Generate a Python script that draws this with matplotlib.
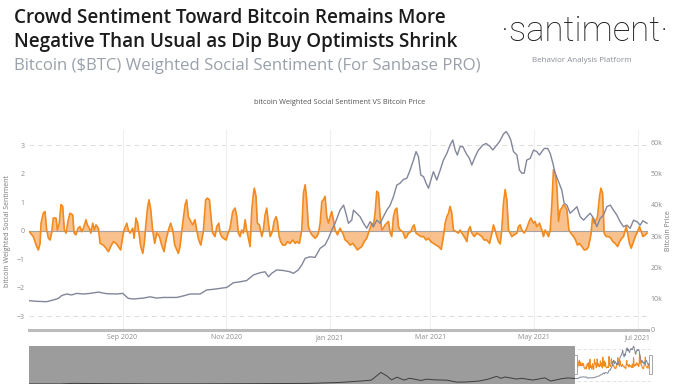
# bitcoin weighted social sentiment vs bitcoin price (santiment style)

import pandas as pd
import matplotlib
matplotlib.use('Agg')
import matplotlib.pyplot as plt
import matplotlib.dates as mdates
import matplotlib.transforms as mtrans
from matplotlib.patches import Rectangle

# data
start = pd.Timestamp('2020-07-08')
end_day = 364

# weighted social sentiment: day offset from start, value
sent_day = [0.2, 2.5, 4.5, 5.5, 6.5, 7.1, 8.4, 9.4, 10.4, 11.4, 12.4, 13.3, 14.3, 15.9, 16.7,
            17.8, 18.8, 19.8, 20.8, 21.8, 22.9, 24.1, 25.7, 26.5, 27.6, 28.8, 30, 31, 32, 33.5,
            34.3, 35.5, 36.3, 37.5, 38.4, 39.4, 40.8, 41.8, 43.7, 45.3, 46.7, 48, 49.6, 51.2,
            52.5, 53.9, 55.1, 55.9, 56.7, 57.5, 58.4, 59.4, 61, 61.8, 62.9, 63.9, 64.9, 65.7,
            66.9, 67.8, 68.8, 69.8, 70.6, 71.6, 72.7, 73.9, 75.1, 76.7, 78, 79.4, 80.6, 82,
            83.3, 84.5, 85.7, 86.9, 87.8, 88.8, 90.4, 91.8, 92.7, 93.7, 95.1, 96.3, 97.6, 98.6,
            99.8, 101, 102.5, 103.9, 104.9, 106.1, 107.1, 108, 109.4, 110.4, 111.6, 112.4,
            113.3, 114.3, 115.9, 117.1, 118.2, 119.8, 121.2, 122.2, 123.1, 124.1, 125.1, 126.1,
            127.1, 128, 129, 130, 131, 132, 132.5, 133.5, 134.3, 135.5, 136.9, 137.8, 138.8,
            139.8, 140.8, 141.8, 142.7, 143.3, 144.1, 145.3, 146.1, 147.1, 148, 149.2, 150.6,
            152, 153.5, 155.1, 156.5, 157.5, 159, 160.4, 161.4, 162.4, 163.3, 164.3, 165.3,
            166.3, 167.3, 168.2, 169.2, 170.2, 171.2, 172.2, 173.1, 174.1, 175.1, 176.1, 177.1,
            178, 179, 180, 181.4, 182.9, 184.5, 185.9, 187.3, 188.8, 190.4, 191.8, 193.1, 194.3,
            195.7, 197.1, 198.6, 200.2, 201.6, 202.5, 203.5, 204.5, 205.5, 206.5, 207.5, 208.4,
            209.4, 210.4, 211.4, 212.4, 213.3, 214.3, 215.3, 216.3, 217.3, 218.2, 219.8, 221.2,
            222.2, 223.1, 224.5, 225.7, 226.5, 227.6, 229, 230.4, 232, 233.5, 234.9, 236.3,
            237.8, 239.4, 240.8, 242.4, 243.7, 244.7, 245.7, 246.7, 247.6, 248.6, 249.6, 251.2,
            252.5, 253.5, 254.5, 255.9, 257.5, 258.4, 259.4, 260.4, 261.8, 263.3, 264.9, 266.3,
            267.6, 269.2, 270.8, 272.2, 273.1, 274.1, 275.1, 276.1, 277.1, 278, 279, 280, 281,
            282, 282.9, 283.9, 285.3, 286.9, 287.8, 288.8, 289.8, 291.2, 292.7, 294.1, 295.1,
            296.7, 297.6, 298.6, 300.2, 301.6, 302.5, 303.5, 304.5, 305.5, 306.5, 307.5, 308.4,
            309.4, 310.4, 311.4, 312.4, 313.3, 314.3, 315.3, 316.3, 317.5, 318.6, 320.2, 321.4,
            322.5, 323.7, 325.1, 326.5, 328, 329, 330.4, 331.4, 332.4, 333.5, 334.3, 335.5,
            336.3, 337.3, 338.2, 339.4, 340.8, 342.2, 343.3, 344.7, 346.1, 347.3, 348.6, 349.6,
            350.6, 351.2, 352, 353.1, 354.1, 355.1, 356.5, 357.8, 359, 360, 361, 362.4, 363.4]
sent_val = [-0.04, -0.21, -0.56, -0.68, -0.45, 0.26, 0.61, 0.67, 0.02, -0.27, -0.33, -0.09, 0.44,
            0.44, 0.02, 0.26, 0.91, 0.85, 0.02, -0.09, 0.32, 0.61, 0.55, -0.09, -0.15, 0.08, 0.14,
            -0.04, 0.08, 0.38, 0.2, 0.08, -0.09, 0.26, 0.02, 0.2, 0.08, -0.45, -0.51, -0.62, -0.74,
            -0.56, -0.39, -0.45, -0.56, -0.68, -0.21, 0.02, 0.14, 0.26, 0.02, -0.09, 0.08, -0.27,
            0.44, 0.26, -0.21, -0.56, -0.8, -0.45, 0.26, 0.85, 1.08, 0.73, 0.02, -0.45, -0.09,
            -0.21, -0.51, -0.74, -0.33, 0.02, 0.26, 0.02, -0.51, -0.68, -0.8, -0.56, 0.26, 0.91,
            1.08, 0.49, 0.32, 0.2, 0.38, 0.02, -0.33, -0.51, -0.04, 1.08, 1.14, 1.08, 0.44, -0.09,
            -0.21, 0.14, 0.26, -0.09, -0.21, -0.27, -0.33, -0.09, 0.08, 0.67, 0.79, 0.49, -0.09,
            -0.21, 0.02, -0.09, 0.38, 0.02, -0.27, -0.56, 0.73, 1.32, 1.49, 1.2, 0.26, 0.2, -0.21,
            0.02, 0.55, 0.79, 0.26, -0.21, -0.09, 0.02, 0.32, 0.49, 0.32, -0.21, -0.39, -0.51,
            -0.51, -0.39, -0.45, -0.33, -0.45, -0.39, -0.45, 0.02, 1.32, 1.61, 1.08, 0.14, -0.04,
            -0.15, -0.21, -0.27, -0.21, -0.09, 0.26, 1.02, 1.08, 1.2, 0.49, 0.26, 0.49, 0.67, 0.38,
            0.02, -0.15, 0.08, -0.09, -0.33, -0.39, -0.51, -0.45, -0.56, -0.68, -0.62, -0.56,
            -0.39, -0.27, 0.02, 0.26, 0.14, 0.61, 1.38, 1.32, 0.49, 0.02, 0.08, 0.2, 0.26, 0.32,
            -0.09, -0.21, 0.49, 0.73, 0.79, 0.14, 0.02, -0.04, -0.27, -0.21, -0.09, -0.04, 0.14,
            0.2, -0.09, -0.15, -0.21, -0.21, -0.33, -0.27, -0.39, -0.45, -0.51, -0.56, -0.66,
            -0.21, 0.26, 0.49, 0.61, 0.85, 0.61, 0.02, -0.04, -0.09, 0.02, -0.09, -0.21, -0.39,
            0.02, 0.14, -0.09, -0.21, -0.09, -0.15, -0.21, -0.33, -0.33, -0.45, -0.09, 0.2, 0.02,
            -0.21, -0.39, -0.47, 0.02, 0.96, 1.44, 1.08, 0.02, -0.09, -0.21, -0.15, -0.09, 0.14,
            0.2, 0.02, -0.09, 0.08, 0.32, 0.44, 0.26, 0.32, 0.14, 0.26, 0.02, -0.21, 0.02, -0.09,
            -0.21, 0.02, 0.96, 2.14, 2.02, 1.55, 0.32, 0.73, 0.79, 0.91, 0.85, 0.73, 0.02, -0.09,
            -0.21, -0.33, -0.51, -0.45, -0.56, -0.68, -0.66, -0.56, -0.15, 0.44, 0.26, 0.38, 0.49,
            1.2, 1.49, 1.32, -0.09, -0.21, -0.21, -0.27, -0.39, -0.45, -0.56, -0.39, -0.27, -0.21,
            0.02, 0.14, -0.09, -0.45, -0.62, -0.45, -0.21, -0.04, 0.14, -0.04, -0.21, -0.15, -0.09]

# bitcoin price (thousands usd): day offset from start, value
price_day = [0.2, 4.5, 10.4, 14.3, 17.3, 19.2, 22.2, 25.1, 28, 32, 35.9, 40.8, 45.7, 51.6, 55.1,
             58.4, 61.4, 67.3, 71.2, 75.1, 79, 82.9, 86.9, 90.8, 94.7, 100.6, 104.5, 108.4,
             112.4, 116.3, 120.2, 124.1, 128, 132, 135.9, 138.8, 140.8, 142.7, 145.7, 149.6,
             153.5, 155.5, 158.4, 160.4, 162.4, 165.3, 168.2, 171.2, 174.1, 176.1, 178, 180,
             182.9, 185, 186.9, 187.8, 189.8, 190.8, 192.7, 194.7, 196.7, 198.6, 200.6, 202.5,
             204.5, 206.5, 208.4, 210.4, 212.4, 214.3, 216.3, 218.2, 220.2, 222.2, 224.1, 226.1,
             227.6, 229, 230.4, 232, 233.5, 234.9, 236.3, 237.8, 239.8, 241.8, 243.7, 245.7,
             247.6, 249.2, 250.6, 251.9, 253.5, 255.1, 257.1, 259, 260.4, 262.4, 264.3, 266.9,
             268.8, 271.2, 272.7, 275.1, 276.7, 279, 280.6, 282, 283.3, 284.9, 286.9, 288.4,
             289.8, 291.2, 292.7, 294.7, 296.7, 298.6, 300.2, 301.6, 303, 305, 306.5, 308.1,
             309.4, 311.4, 313.3, 314.7, 316.3, 318.2, 320.2, 322.2, 324.1, 326.1, 328, 330, 332,
             333.9, 335.9, 337.8, 339.8, 341.8, 343.7, 345.7, 347.6, 349.6, 351.6, 353.5, 355.5,
             357.5, 359.4, 361, 363.4]
price_k = [9.37, 9.16, 9.05, 9.6, 10.1, 11.0, 11.5, 11.2, 11.7, 11.5, 11.7, 12.1, 11.6, 11.5,
           11.7, 10.1, 9.9, 10.2, 10.6, 10.2, 10.4, 10.4, 10.4, 10.9, 11.5, 11.5, 12.8, 13.0,
           13.3, 13.6, 15.1, 15.4, 15.8, 17.6, 18.3, 18.6, 17.0, 18.1, 19.2, 19.0, 18.6, 18.1,
           19.2, 20.8, 22.9, 23.4, 23.2, 26.1, 27.2, 29.3, 31.9, 34.1, 38.3, 39.9, 36.2, 34.1,
           35.1, 38.3, 37.3, 36.2, 34.1, 32.5, 34.6, 33.0, 35.1, 34.1, 36.2, 38.3, 39.9, 42.6,
           46.3, 46.9, 48.1, 48.5, 51.1, 54.3, 57.0, 55.4, 49.5, 49.0, 46.9, 45.3, 47.9, 50.6,
           47.9, 51.1, 54.3, 56.4, 59.1, 60.7, 57.5, 55.9, 58.6, 58.6, 56.4, 54.8, 52.7, 55.4,
           57.5, 59.1, 59.6, 58.6, 57.5, 59.1, 60.2, 62.6, 63.4, 62.3, 60.7, 57.0, 55.9, 51.1,
           50.1, 50.1, 54.3, 54.8, 57.5, 57.0, 55.9, 57.0, 58.0, 58.0, 56.4, 53.2, 50.1, 47.4,
           44.7, 40.5, 39.9, 37.3, 38.3, 39.4, 36.2, 35.1, 36.2, 37.3, 35.7, 33.0, 35.7, 36.7,
           39.4, 39.9, 38.3, 36.7, 34.6, 33.0, 33.5, 32.5, 35.1, 34.6, 33.5, 34.9, 34.1]

# longer price history shown in the navigator (thousands usd)
hist_date = ['2013-05-01', '2013-10-01', '2013-11-30', '2014-02-01', '2014-06-01', '2015-01-15',
             '2015-07-01', '2015-12-15', '2016-06-15', '2017-01-01', '2017-05-25', '2017-09-01',
             '2017-11-01', '2017-12-17', '2018-01-15', '2018-02-06', '2018-03-05', '2018-04-06',
             '2018-05-05', '2018-06-28', '2018-07-25', '2018-09-01', '2018-11-01', '2018-12-15',
             '2019-02-01', '2019-04-02', '2019-05-15', '2019-06-26', '2019-07-16', '2019-08-06',
             '2019-09-30', '2019-10-26', '2019-12-17', '2020-02-13', '2020-03-12', '2020-04-30',
             '2020-06-01', '2020-07-07']
hist_k = [0.12, 0.13, 1.1, 0.8, 0.6, 0.22, 0.26, 0.43, 0.67, 1.0, 2.5, 4.7, 6.5, 19.5, 13.5, 7.0,
          11.5, 6.6, 9.7, 5.9, 8.2, 7.0, 6.4, 3.2, 3.4, 5.0, 8.0, 12.9, 9.5, 11.8, 8.3, 9.5, 6.6,
          10.3, 4.9, 8.7, 10.2, 9.3]

# colours
c_line = '#f28a1e'
c_fill = '#f5a050'
c_price = '#82869a'
c_tick = '#8c8c8c'

sent_dates = start + pd.to_timedelta(sent_day, unit='D')
price_dates = start + pd.to_timedelta(price_day, unit='D')
hist_dates = pd.to_datetime(hist_date)
end = start + pd.Timedelta(days=end_day)

fig = plt.figure(figsize=(6.8, 3.91), dpi=100)
W, H = 680, 391

# header texts
fig.text(14 / W, 1 - 18 / H, 'Crowd Sentiment Toward Bitcoin Remains More', fontsize=13.6,
         fontweight='semibold', family='Open Sans', color='#1c1c1c', va='center')
fig.text(14 / W, 1 - 42 / H, 'Negative Than Usual as Dip Buy Optimists Shrink', fontsize=13.6,
         fontweight='semibold', family='Open Sans', color='#1c1c1c', va='center')
fig.text(14 / W, 1 - 66 / H, 'Bitcoin ($BTC) Weighted Social Sentiment (For Sanbase PRO)',
         fontsize=12.1, family='Open Sans', color='#9aa1ab', va='center')
fig.text(585 / W, 1 - 31 / H, '\u00b7santiment\u00b7', fontsize=25, family='Roboto',
         fontweight='light', color='#1c1c1c', ha='center', va='center')
fig.text(582 / W, 1 - 61 / H, 'Behavior Analysis Platform', fontsize=5.8, family='Open Sans',
         color='#8a8f96', ha='center', va='center')
fig.text(340 / W, 1 - 103 / H, 'bitcoin Weighted Social Sentiment VS Bitcoin Price',
         fontsize=5.3, color='#555555', family='Open Sans', ha='center', va='center')
fig.text(8 / W, 1 - 231 / H, 'bitcoin Weighted Social Sentiment', fontsize=5, rotation=90,
         color='#777777', family='Open Sans', ha='center', va='center')
fig.text(668 / W, 1 - 231 / H, 'Bitcoin Price', fontsize=5, rotation=90,
         color='#777777', family='Open Sans', ha='center', va='center')

# main chart
ax = fig.add_axes([29 / W, 61 / H, 619 / W, 200 / H])
ax.fill_between(sent_dates, sent_val, 0, color=c_fill, alpha=0.65, lw=0)
ax.plot(sent_dates, sent_val, color=c_line, lw=1.2)
ax.axhline(0, color='#a3a3a3', lw=0.8, zorder=1)
for v in (3, -3):
    ax.axhline(v, color='#dcdcdc', lw=0.7, ls=(0, (5, 4)), zorder=0)
ax.set_xlim(start, end)
ax.set_ylim(-3.49, 3.53)
ax.set_yticks([-3, -2, -1, 0, 1, 2, 3])
ax.set_yticklabels(['\u22123', '\u22122', '\u22121', '0', '1', '2', '3'])
ax.xaxis.set_major_locator(mdates.MonthLocator(bymonth=[1, 3, 5, 7, 9, 11]))
ax.xaxis.set_major_formatter(mdates.DateFormatter('%b %Y'))
ax.grid(axis='x', color='#efefef', lw=0.8)
ax.set_axisbelow(True)
for s in ('top', 'left', 'right'):
    ax.spines[s].set_visible(False)
ax.spines['bottom'].set_color('#bcbcbc')
ax.spines['bottom'].set_linewidth(2.2)
ax.tick_params(axis='both', length=0, labelsize=5, labelcolor=c_tick, pad=3)

ax2 = ax.twinx()
ax2.plot(price_dates, [p * 1000 for p in price_k], color=c_price, lw=1.0)
ax2.set_ylim(0, 63900)
ax2.set_yticks([0, 10000, 20000, 30000, 40000, 50000, 60000])
ax2.set_yticklabels(['0', '10k', '20k', '30k', '40k', '50k', '60k'])
for s in ('top', 'left', 'right', 'bottom'):
    ax2.spines[s].set_visible(False)
ax2.tick_params(axis='y', length=0, labelsize=5, labelcolor=c_tick, pad=2)

for a in (ax, ax2):
    for lab in a.get_xticklabels() + a.get_yticklabels():
        lab.set_family('Open Sans')

# navigator
nav = fig.add_axes([29 / W, 7 / H, 622 / W, 38 / H])
nav_start = hist_dates[0]
nav.axvspan(nav_start, start, color='#9c9c9c', lw=0, zorder=1)
for v in (3, -3):
    nav.axhline(v, color='#dddddd', lw=0.6, ls=(0, (4, 3)), zorder=0)
nav.fill_between(sent_dates, sent_val, 0, color=c_fill, alpha=0.4, lw=0, zorder=2)
nav.plot(sent_dates, sent_val, color=c_line, lw=0.7, zorder=3)
nav.set_xlim(nav_start, end)
nav.set_ylim(-3.49, 3.53)
nav.axis('off')

nav2 = nav.twinx()
nav2.plot(hist_dates, [p * 1000 for p in hist_k], color='#3d3d3d', lw=0.7)
nav2.plot(price_dates, [p * 1000 for p in price_k], color=c_price, lw=0.7)
nav2.set_ylim(0, 63900)
nav2.set_xlim(nav_start, end)
nav2.axis('off')

# range handles
tr = mtrans.blended_transform_factory(nav2.transData, nav2.transAxes)
for d in (start, end - pd.Timedelta(days=3)):
    x0 = mdates.date2num(d) - 7
    nav2.add_patch(Rectangle((x0, 0.26), 14, 0.5, transform=tr, facecolor='white',
                             edgecolor='#999999', lw=0.6, zorder=5, clip_on=False))

fig.savefig('out.png', dpi=100)
